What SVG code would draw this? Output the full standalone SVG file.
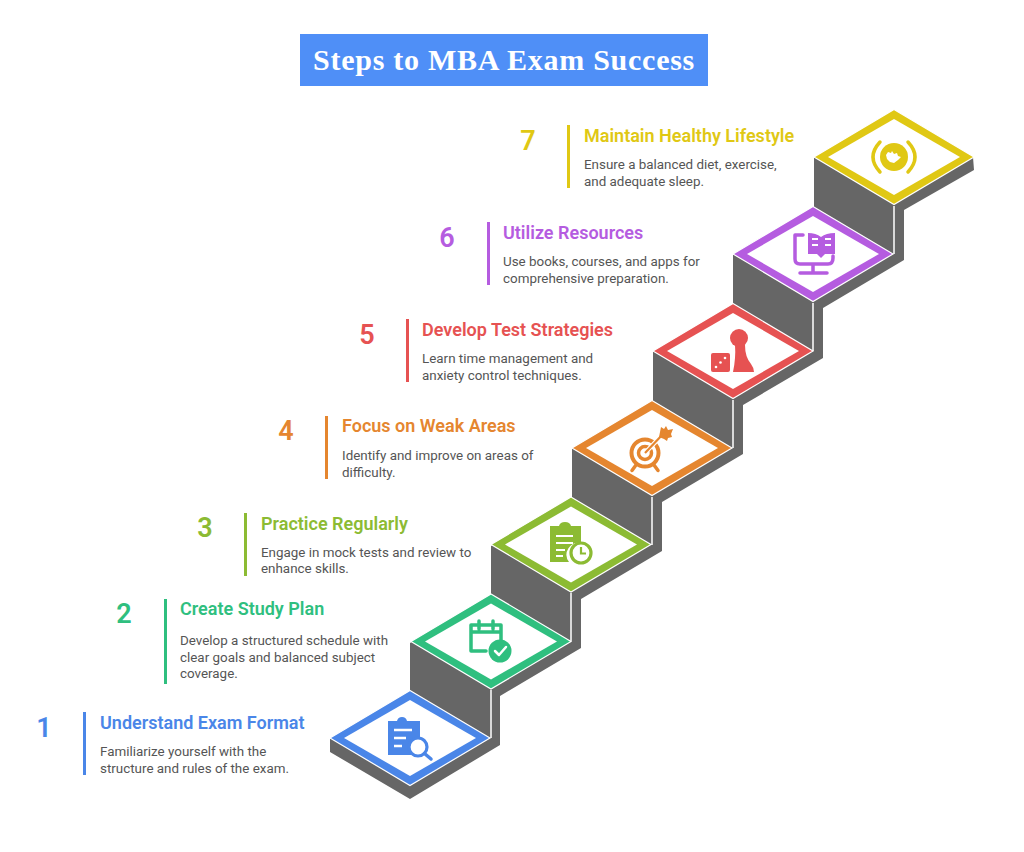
<svg xmlns="http://www.w3.org/2000/svg" width="1024" height="852" viewBox="0 0 1024 852">
<style>
text{font-family:Roboto,"Liberation Sans",sans-serif}
.n{font-size:27px;font-weight:600;text-anchor:middle}
.t{font-size:18px;font-weight:600}
.b{font-size:13.4px;fill:#555}
.w{fill:#fff}
.e{stroke:#fff;stroke-width:1.2;stroke-linejoin:miter}
.sl{stroke:#fff;stroke-width:1.5;fill:none}
.ln{fill:none;stroke-width:3.500;stroke-linecap:round;stroke-linejoin:round}
.s1{fill:#4a86e8}.s2{fill:#2fbf7f}.s3{fill:#8cbb33}.s4{fill:#e5862f}.s5{fill:#e65252}.s6{fill:#b55ce0}.s7{fill:#e0c814}
.c1{fill:#4a86e8}.c2{fill:#2fbf7f}.c3{fill:#8cbb33}.c4{fill:#e5862f}.c5{fill:#e65252}.c6{fill:#b55ce0}.c7{fill:#e0c814}
</style>
<rect width="1024" height="852" fill="#fff"/>
<g id="title">
<rect x="300" y="34" width="408" height="52" fill="#4f8ff7"/>
<text x="504" y="70" text-anchor="middle" style="font-family:'Liberation Serif',serif;font-size:30px;font-weight:700;letter-spacing:.75px" fill="#fff">Steps to MBA Exam Success</text>
</g>
<g id="connectors">
<polygon id="stair-body" fill="#666" points="330,739 330,752 410,799 500,745 500,696 581,648 581,599 662,551 662,502 743,454 743,405 823,358 823,308 904,260 904,210 974,170 973,157 894,110 814,158 814,207 733,255 733,304 653,352 653,401 572,449 572,498 491,546 491,595 410,643 410,692"/>
<path class="sl" d="M491 690V738M571 593V641M652 497V545M733 400V448M813 303V351M894 206V254"/>
</g>
<g id="step-1">
<path class="e c1" d="M410 690.500L490 738L410 785.500L330 738Z"/>
<path class="w" d="M410 700L476 738L410 776L344 738Z"/>
<path class="c1" d="M388 721h9q1-4 5-4t5 4h13v19a11 11 0 0 0-7 15h-25z"/>
<path d="M394 730h18M394 738h12M394 746h8" stroke="#fff" stroke-width="2.500"/>
<circle cx="418" cy="747" r="9" fill="#fff" stroke="#4a86e8" stroke-width="3.200"/>
<path d="M424.500 753.500l6.500 5.500" stroke="#4a86e8" stroke-width="3.500" stroke-linecap="round"/>
<text class="n s1" x="44" y="737">1</text>
<rect class="c1" x="83" y="712" width="3" height="63"/>
<text class="t s1" x="100" y="729">Understand Exam Format</text>
<text class="b" x="100" y="756">Familiarize yourself with the</text>
<text class="b" x="100" y="773">structure and rules of the exam.</text>
</g>
<g id="step-2">
<path class="e c2" d="M491 594L571 641.500L491 689L411 641.500Z"/>
<path class="w" d="M491 603.500L557 641.500L491 679.500L425 641.500Z"/>
<path class="ln" stroke="#2fbf7f" d="M486 651H471V625H501V640M479 621V629M493 621V629M471 632H501"/>
<circle class="c2" cx="500" cy="651" r="11.500"/>
<path d="M495 651l4 4 7-8" fill="none" stroke="#fff" stroke-width="2.500" stroke-linecap="round" stroke-linejoin="round"/>
<text class="n s2" x="124" y="623">2</text>
<rect class="c2" x="164" y="599" width="3" height="85"/>
<text class="t s2" x="180" y="615">Create Study Plan</text>
<text class="b" x="180" y="645">Develop a structured schedule with</text>
<text class="b" x="180" y="662">clear goals and balanced subject</text>
<text class="b" x="180" y="678">coverage.</text>
</g>
<g id="step-3">
<path class="e c3" d="M571 497L651 544.500L571 592L491 544.500Z"/>
<path class="w" d="M571 506.500L637 544.500L571 582.500L505 544.500Z"/>
<path class="c3" d="M550 526h9q1-4 6-4t6 4h10v17a12 12 0 0 0-12 19h-19z"/>
<path d="M556 536h17M556 543h17M556 550h9M556 556h7" stroke="#fff" stroke-width="2.200"/>
<circle cx="581" cy="553" r="10" fill="#fff" stroke="#8cbb33" stroke-width="3.200"/>
<path d="M581 547v6.500h5" fill="none" stroke="#8cbb33" stroke-width="2.200"/>
<text class="n s3" x="205" y="537">3</text>
<rect class="c3" x="244" y="513" width="3" height="63"/>
<text class="t s3" x="261" y="530">Practice Regularly</text>
<text class="b" x="261" y="557">Engage in mock tests and review to</text>
<text class="b" x="261" y="573">enhance skills.</text>
</g>
<g id="step-4">
<path class="e c4" d="M652 400.500L732 448L652 495.500L572 448Z"/>
<path class="w" d="M652 410L718 448L652 486L586 448Z"/>
<circle cx="645" cy="453" r="13.500" fill="none" stroke="#e5862f" stroke-width="4"/>
<circle cx="645" cy="453" r="6.500" fill="none" stroke="#e5862f" stroke-width="3.500"/>
<path d="M636 465l-4 5.500M654 465l4 5.500" stroke="#e5862f" stroke-width="3.500" stroke-linecap="round"/>
<path d="M645 453l19-20" stroke="#fff" stroke-width="4.500"/>
<path d="M645 453l19-20" stroke="#e5862f" stroke-width="2.200"/>
<path class="c4" d="M659 437l2-10 3 2 2-3 2 4 5-1-2 5 1 3-4 1-1 3-3-2z"/>
<text class="n s4" x="286" y="440">4</text>
<rect class="c4" x="325" y="416" width="3" height="63"/>
<text class="t s4" x="342" y="432">Focus on Weak Areas</text>
<text class="b" x="342" y="460">Identify and improve on areas of</text>
<text class="b" x="342" y="477">difficulty.</text>
</g>
<g id="step-5">
<path class="e c5" d="M733 303.500L813 351L733 398.500L653 351Z"/>
<path class="w" d="M733 313L799 351L733 389L667 351Z"/>
<circle class="c5" cx="739" cy="338" r="9"/>
<path class="c5" d="M735 345H745Q745 357 751 364Q754 368 754 372H733Q736 358 735 345Z"/>
<rect class="c5" x="711" y="353" width="19" height="19" rx="2"/>
<circle class="w" cx="716" cy="367" r="1.300"/><circle class="w" cx="720.500" cy="362.500" r="1.300"/><circle class="w" cx="725" cy="358" r="1.300"/>
<text class="n s5" x="367" y="344">5</text>
<rect class="c5" x="406" y="319" width="3" height="63"/>
<text class="t s5" x="422" y="336">Develop Test Strategies</text>
<text class="b" x="422" y="363">Learn time management and</text>
<text class="b" x="422" y="380">anxiety control techniques.</text>
</g>
<g id="step-6">
<path class="e c6" d="M813 206.500L893 254L813 301.500L733 254Z"/>
<path class="w" d="M813 216L879 254L813 292L747 254Z"/>
<path class="ln" stroke="#b55ce0" stroke-width="4" d="M803 235H795V259Q795 264 800 264H828Q833 264 833 258V256"/>
<path d="M813 265V273M800 273H827" stroke="#b55ce0" stroke-width="3.500" fill="none" stroke-linecap="round"/>
<path class="c6" d="M808 233q8 0 13 4 5-4 14-4v21h-10l-4 4-4-4h-9z"/>
<path d="M812 239h6M812 245h6M825 239h6M825 245h6" stroke="#fff" stroke-width="2.200"/>
<text class="n s6" x="447" y="247">6</text>
<rect class="c6" x="487" y="222" width="3" height="63"/>
<text class="t s6" x="503" y="239">Utilize Resources</text>
<text class="b" x="503" y="266">Use books, courses, and apps for</text>
<text class="b" x="503" y="283">comprehensive preparation.</text>
</g>
<g id="step-7">
<path class="e c7" d="M894 109.500L974 157L894 204.500L814 157Z"/>
<path class="w" d="M894 119L960 157L894 195L828 157Z"/>
<circle class="c7" cx="894" cy="157" r="14"/>
<path class="w" d="M886 155l2-3 3 1 1-2 2 3 3-1 1 3 3 1-3 3-4 3-4-1-3-3z"/>
<path d="M880 142Q866 157 880 172M908 142Q922 157 908 172" fill="none" stroke="#e0c814" stroke-width="3.500" stroke-linecap="round"/>
<text class="n s7" x="528" y="150">7</text>
<rect class="c7" x="567" y="125" width="3" height="63"/>
<text class="t s7" x="584" y="142">Maintain Healthy Lifestyle</text>
<text class="b" x="584" y="169">Ensure a balanced diet, exercise,</text>
<text class="b" x="584" y="186">and adequate sleep.</text>
</g>
</svg>
